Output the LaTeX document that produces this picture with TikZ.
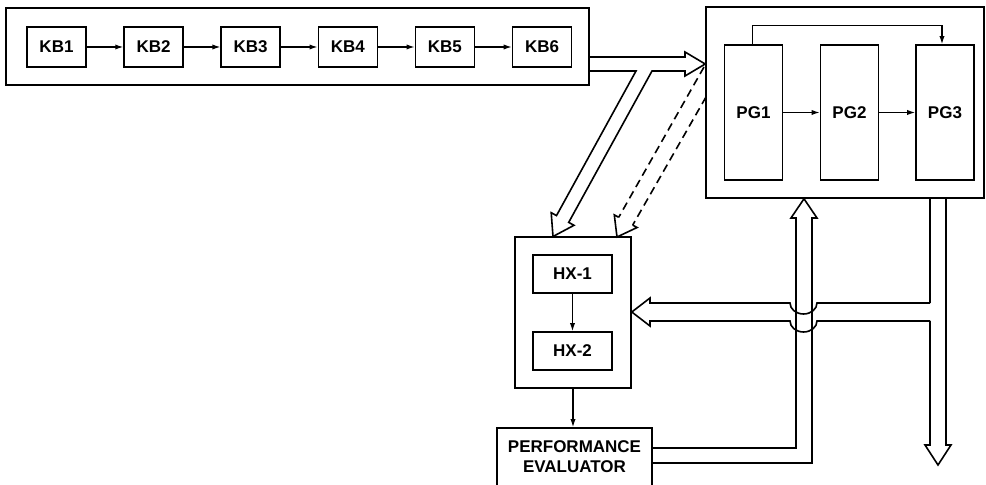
\documentclass[tikz,border=0pt]{standalone}
\usepackage{fontspec}
\setmainfont{Liberation Sans}
\usetikzlibrary{arrows.meta}

\begin{document}
\begin{tikzpicture}[
    x=0.5pt,y=-0.5pt,
    every node/.style={font=\fontsize{8.5}{10}\selectfont\bfseries},
    frame/.style={draw=black, line width=0.8pt, inner sep=0pt},
    unit/.style={frame, minimum width=29.5pt, minimum height=20pt},
    tall/.style={frame, minimum width=29pt, minimum height=67.5pt},
    hx/.style={frame, minimum width=39.5pt, minimum height=19pt},
    link/.style={line width=0.6pt, -{Latex[length=4pt,width=2.6pt]}},
    band/.style={line width=0.8pt, line join=miter},
    faint/.style={band, dash pattern=on 4pt off 2.5pt}
]
    \useasboundingbox (0,0) rectangle (986,485);

    % knowledge bases
    \node[frame, minimum width=291.5pt, minimum height=38.5pt] (kbframe) at (297.5,46.5) {};
    \foreach \i in {1,...,6}
        \node[unit] (kb\i) at ({56.5+97.1*(\i-1)},47) {KB\i};
    \foreach \i [evaluate=\i as \j using int(\i+1)] in {1,...,5}
        \draw[link] (kb\i) -- (kb\j);

    % program generators
    \node[frame, minimum width=139pt, minimum height=95.5pt] (pgframe) at (845,102.5) {};
    \node[tall] (pg1) at (753.5,112.5) {PG1};
    \node[tall] (pg2) at (849.5,112.5) {PG2};
    \node[tall] (pg3) at (945,112.5) {PG3};
    \draw[link] (pg1) -- (pg2);
    \draw[link] (pg2) -- (pg3);
    \draw[link] ([xshift=-0.5pt]pg1.north) -- ++(0,-19) -| ([xshift=-1.5pt]pg3.north);

    % heuristics
    \node[frame, minimum width=58pt, minimum height=75.5pt] (hxframe) at (573,312.5) {};
    \node[hx] (hx1) at (572.5,274) {HX-1};
    \node[hx] (hx2) at (572.5,351) {HX-2};
    \draw[link] (hx1) -- (hx2);

    \node[frame, minimum width=77.5pt, minimum height=31pt] (perf) at (574.5,459) {};
    \node[align=center] (perftext) at (574.5,457) {PERFORMANCE\\EVALUATOR};
    \draw[link] (hxframe.south) -- (hxframe.south |- perf.north);

    % wide channels
    \draw[band] (kbframe.east |- 0,57) -- (685,57) -- (685,52) -- (pgframe.west |- 0,64) -- (685,76) -- (685,71) -- (652,71)
        -- (568.7,222.4) -- (574,225.3) -- (553,236.5) -- (551.2,212.7) -- (556.5,215.6) -- (636,71) -- (kbframe.east |- 0,71);
    \draw[faint] (704,67) -- (618.7,217.3);
    \draw[faint] (706,97) -- (632.7,225.1);
    \draw[band] (618.7,217.3) -- (614.3,214.9) -- (617,237) -- (637.1,227.5) -- (632.7,225.1);

    \draw[band] (perf.east |- 0,448) -- (796,448) -- (796,218) -- (791,218) -- (pgframe.south -| 804,0) -- (817,218) -- (812,218) -- (812,463) -- (perf.east |- 0,463);
    \draw[band] (930,198) -- (930,303);
    \draw[band] (930,321) -- (930,445) -- (925,445) -- (938,465) -- (951,445) -- (946,445) -- (946,198);
    \draw[band] (930,303) -- (817,303) arc[start angle=0, end angle=180, x radius=13.5, y radius=11] -- (650,303) -- (650,298)
        -- (hxframe.east |- 0,312) -- (650,326) -- (650,321) -- (790,321) arc[start angle=180, end angle=0, x radius=13.5, y radius=11] -- (930,321);
\end{tikzpicture}
\end{document}
